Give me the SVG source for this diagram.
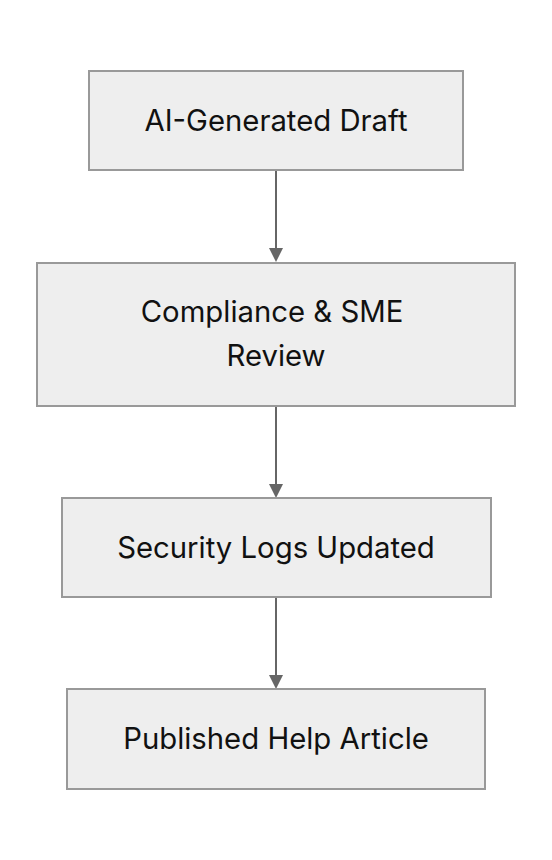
<svg xmlns="http://www.w3.org/2000/svg" width="552" height="860" viewBox="0 0 552 860">
<style>
.box{fill:#eeeeee;stroke:#999999;stroke-width:2}
.lbl{font-family:Inter,"Liberation Sans",sans-serif;font-size:29.3px;fill:#111111;text-anchor:middle}
.edge{stroke:#666666;stroke-width:2;fill:none}
.head{fill:#666666}
</style>
<rect width="552" height="860" fill="#ffffff"/>
<g id="edges">
<line class="edge" x1="276" y1="170" x2="276" y2="250"/>
<path class="head" d="M269,248 L283,248 L276,262 Z"/>
<line class="edge" x1="276" y1="406" x2="276" y2="486"/>
<path class="head" d="M269,484 L283,484 L276,498 Z"/>
<line class="edge" x1="276" y1="597" x2="276" y2="677"/>
<path class="head" d="M269,675 L283,675 L276,689 Z"/>
</g>
<g id="n1">
<rect class="box" x="89" y="71" width="374" height="99"/>
<text class="lbl" x="276" y="131">AI-Generated Draft</text>
</g>
<g id="n2">
<rect class="box" x="37" y="263" width="478" height="143"/>
<text class="lbl" x="272" y="322">Compliance &amp; SME</text>
<text class="lbl" x="276" y="366">Review</text>
</g>
<g id="n3">
<rect class="box" x="62" y="498" width="429" height="99"/>
<text class="lbl" x="276" y="558">Security Logs Updated</text>
</g>
<g id="n4">
<rect class="box" x="67" y="689" width="418" height="100"/>
<text class="lbl" x="276" y="749">Published Help Article</text>
</g>
</svg>
